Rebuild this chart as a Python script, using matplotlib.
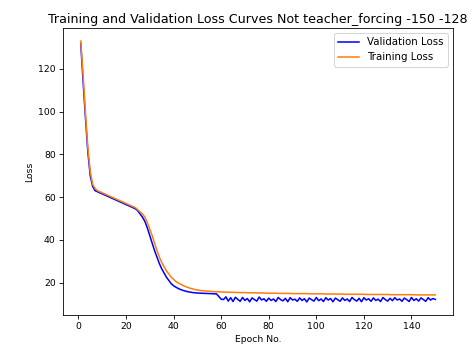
import matplotlib
matplotlib.use("Agg")
import matplotlib.pyplot as plt

epochs = list(range(1, 151))

validation_loss = [
    132.0, 114.0, 97.0, 81.0, 70.0, 65.0, 63.0, 62.5, 62.0, 61.5,
    61.0, 60.5, 60.0, 59.5, 59.0, 58.5, 58.0, 57.5, 57.0, 56.5,
    56.0, 55.5, 55.0, 54.5, 53.5, 52.0, 50.5, 48.5, 45.5, 42.0,
    38.5, 35.0, 32.0, 29.0, 26.5, 24.5, 22.5, 21.0, 19.5, 18.5,
    17.8, 17.2, 16.7, 16.3, 16.0, 15.7, 15.5, 15.3, 15.2, 15.1,
    15.0, 15.0, 14.9, 14.9, 14.8, 14.8, 14.7, 14.7, 13.5, 12.2,
    12.0, 13.3, 11.3, 12.9, 11.1, 13.1, 12.1, 11.2, 13.0, 11.6,
    12.5, 11.0, 12.8, 12.0, 11.3, 13.2, 11.8, 12.4, 11.2, 12.7,
    11.6, 12.3, 11.1, 13.0, 12.0, 11.4, 12.6, 11.0, 12.9, 11.8,
    12.2, 11.2, 12.8, 11.6, 12.4, 10.9, 12.7, 12.0, 11.3, 13.0,
    11.5, 12.3, 11.1, 12.9, 11.8, 12.5, 11.0, 12.7, 12.0, 11.2,
    12.8, 11.6, 12.3, 11.1, 13.0, 12.0, 11.3, 12.6, 11.0, 12.9,
    11.8, 12.4, 11.2, 12.8, 11.6, 12.2, 11.1, 13.0, 12.0, 11.3,
    12.6, 11.5, 12.9, 11.8, 12.3, 11.2, 12.7, 12.0, 11.1, 13.0,
    11.6, 12.4, 11.3, 12.8, 12.0, 11.2, 12.9, 11.8, 12.5, 12.1,
]

training_loss = [
    133.0, 117.0, 99.0, 83.0, 72.0, 66.0, 64.0, 63.0, 62.5, 62.0,
    61.5, 61.0, 60.5, 60.0, 59.5, 59.0, 58.5, 58.0, 57.5, 57.0,
    56.5, 56.0, 55.5, 55.0, 54.0, 53.0, 52.0, 50.5, 48.0, 45.0,
    42.0, 38.5, 35.0, 32.0, 29.5, 27.5, 25.5, 24.0, 22.5, 21.5,
    20.5, 19.8, 19.2, 18.6, 18.1, 17.7, 17.3, 17.0, 16.7, 16.5,
    16.3, 16.2, 16.1, 16.0, 15.9, 15.8, 15.7, 15.7, 15.6, 15.6,
    15.5, 15.5, 15.5, 15.4, 15.4, 15.4, 15.3, 15.3, 15.3, 15.3,
    15.2, 15.2, 15.2, 15.2, 15.1, 15.1, 15.1, 15.1, 15.0, 15.0,
    15.0, 15.0, 15.0, 14.9, 14.9, 14.9, 14.9, 14.9, 14.9, 14.8,
    14.8, 14.8, 14.8, 14.8, 14.8, 14.8, 14.7, 14.7, 14.7, 14.7,
    14.7, 14.7, 14.7, 14.6, 14.6, 14.6, 14.6, 14.6, 14.6, 14.6,
    14.6, 14.5, 14.5, 14.5, 14.5, 14.5, 14.5, 14.5, 14.5, 14.5,
    14.4, 14.4, 14.4, 14.4, 14.4, 14.4, 14.4, 14.4, 14.4, 14.4,
    14.3, 14.3, 14.3, 14.3, 14.3, 14.3, 14.3, 14.3, 14.3, 14.3,
    14.3, 14.2, 14.2, 14.2, 14.2, 14.2, 14.2, 14.2, 14.2, 14.2,
]

title = "Training and Validation Loss Curves Not teacher_forcing -150 -128"

dpi = 74.2
fig = plt.figure(figsize=(475 / dpi, 352 / dpi), dpi=dpi)
ax = fig.add_axes([63 / 475, 1 - 315 / 352, (453 - 63) / 475, (315 - 28) / 352])

ax.plot(epochs, validation_loss, color="blue", linewidth=1.5, label="Validation Loss")
ax.plot(epochs, training_loss, color="#ff7f0e", linewidth=1.5, label="Training Loss")

ax.set_title(title, fontsize=12.3, pad=5)
ax.set_xlabel("Epoch No.", fontsize=9)
ax.set_ylabel("Loss", fontsize=9)
ax.tick_params(labelsize=9)
ax.legend(loc="upper right", fontsize=10)

fig.savefig("out.png", dpi=dpi)
